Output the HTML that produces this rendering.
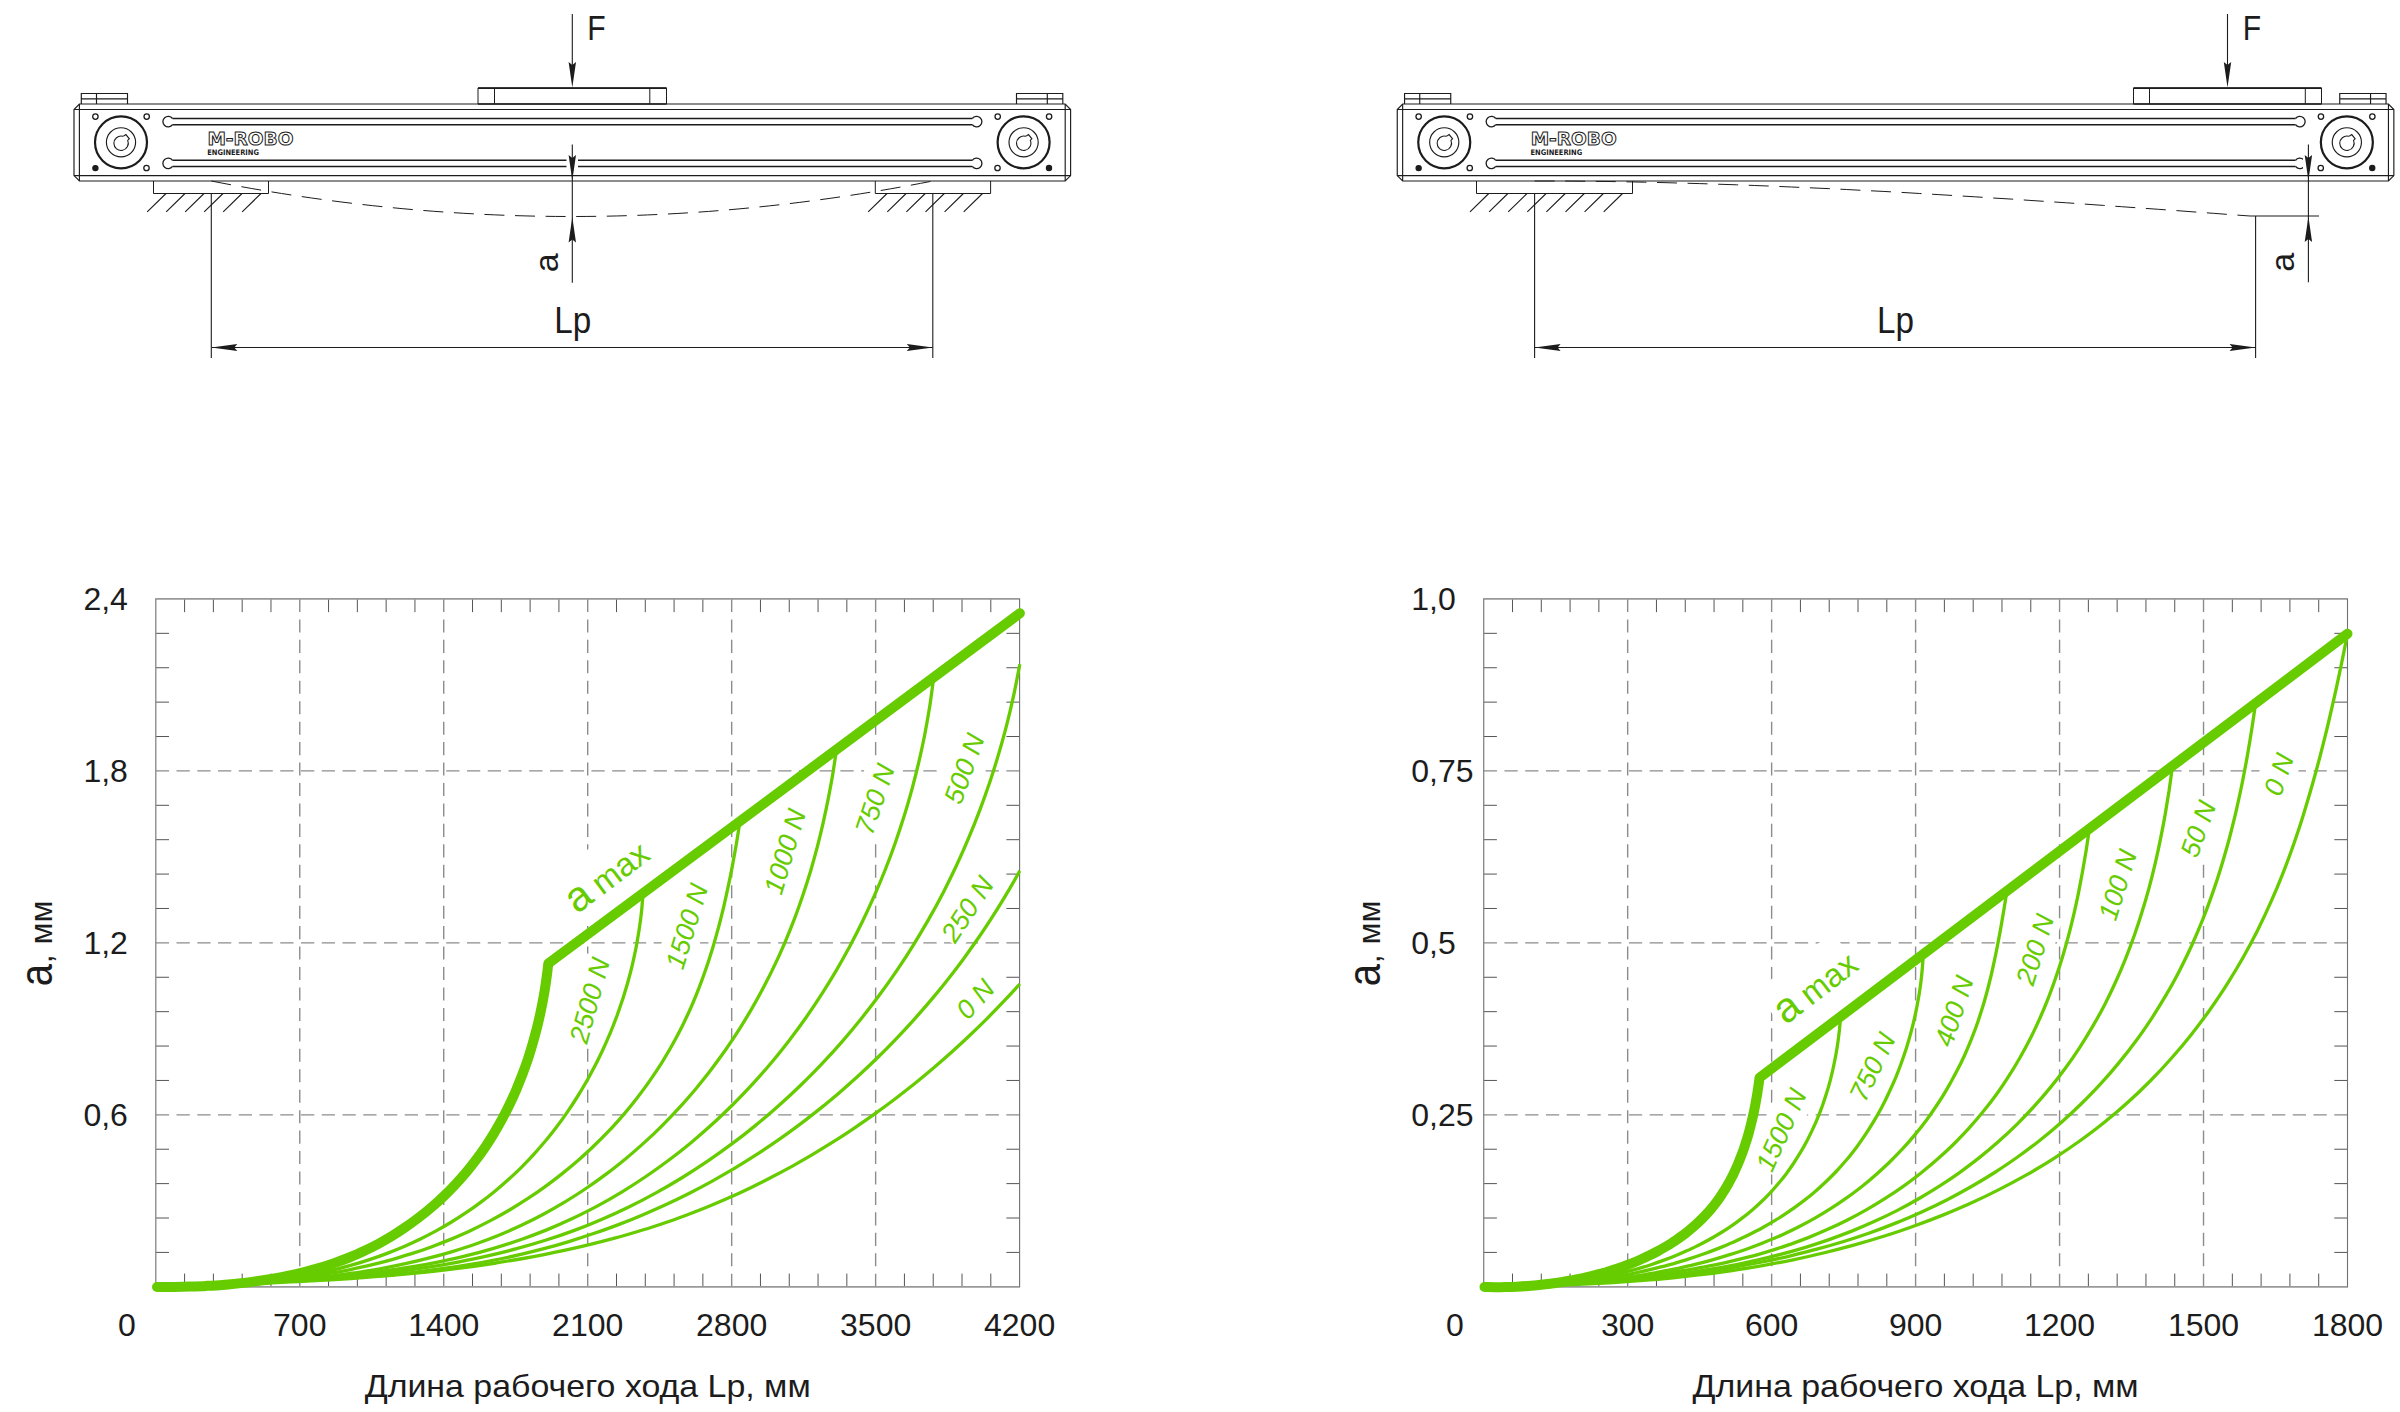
<!DOCTYPE html>
<html lang="ru"><head><meta charset="utf-8"><title>Прогиб модуля M-ROBO</title>
<style>html,body{margin:0;padding:0;background:#fff}svg{display:block}</style></head><body>
<svg width="2400" height="1412" viewBox="0 0 2400 1412">
<rect width="2400" height="1412" fill="#fff"/>
<g id="diagram-left">
<g transform="translate(0.00 0)" fill="none" stroke="#1c1c1c" stroke-width="1.15">
<path d="M81.3 104V93.5H127.5V104M96.5 93.5V104M81.3 98.8H127.5"/>
<path d="M1016.5 104V93.5H1062.8V104M1047.3 93.5V104M1016.5 98.8H1062.8"/>
<path d="M79.4 104H1065.2L1070.6 109.5V175.6L1065.2 181H79.4L74 175.6V109.5Z"/>
<path d="M74 109.5H1070.6M74 175.6H1070.6M79.4 104V181M1065.2 104V181"/>
<path stroke-width="1.5" d="M172.5 118.5H972.3M172.5 124.7H972.3"/>
<path stroke-width="1.3" d="M172.5 118.5A5.3 5.3 0 1 0 172.5 124.7"/>
<path stroke-width="1.3" d="M972.3 118.5A5.3 5.3 0 1 1 972.3 124.7"/>
<path stroke-width="1.5" d="M172.5 160.3H972.3M172.5 166.4H972.3"/>
<path stroke-width="1.3" d="M172.5 160.3A5.3 5.3 0 1 0 172.5 166.4"/>
<path stroke-width="1.3" d="M972.3 160.3A5.3 5.3 0 1 1 972.3 166.4"/>
<circle cx="121.0" cy="142.3" r="26" stroke-width="2.2"/>
<circle cx="121.0" cy="142.3" r="14.6"/>
<path d="M122.5 136.2a7.2 7.2 0 1 0 5.2 4.2l1.6-1.6l-3.4-4.2l-1.8 1.2z" stroke-width="1.1"/>
<circle cx="1023.6" cy="142.3" r="26" stroke-width="2.2"/>
<circle cx="1023.6" cy="142.3" r="14.6"/>
<path d="M1025.1 136.2a7.2 7.2 0 1 0 5.2 4.2l1.6-1.6l-3.4-4.2l-1.8 1.2z" stroke-width="1.1"/>
<circle cx="95.4" cy="116.6" r="2.7" stroke-width="1.3"/>
<circle cx="146.7" cy="116.6" r="2.7" stroke-width="1.3"/>
<circle cx="95.4" cy="168.1" r="2.6" fill="#1c1c1c" stroke-width="1.2"/>
<circle cx="146.5" cy="168.0" r="2.7" stroke-width="1.3"/>
<circle cx="997.7" cy="116.6" r="2.7" stroke-width="1.3"/>
<circle cx="1049.1" cy="116.6" r="2.7" stroke-width="1.3"/>
<circle cx="997.5" cy="168.0" r="2.7" stroke-width="1.3"/>
<circle cx="1049.0" cy="168.0" r="2.6" fill="#1c1c1c" stroke-width="1.2"/>
</g>
<text x="207.40" y="144.7" font-family="'DejaVu Sans','Liberation Sans',sans-serif" font-weight="bold" font-size="18.2" textLength="86" lengthAdjust="spacingAndGlyphs" fill="#fff" stroke="#1c1c1c" stroke-width="1">M-ROBO</text>
<text x="207.20" y="155" font-family="'DejaVu Sans','Liberation Sans',sans-serif" font-weight="bold" font-size="7.7" textLength="51.8" lengthAdjust="spacingAndGlyphs" fill="#1c1c1c">ENGINEERING</text>
<path d="M478 104V88H666.5V104M494.5 88V104M649.8 88V104" fill="none" stroke="#1c1c1c" stroke-width="1"/>
<line x1="478.00" y1="88.20" x2="666.50" y2="88.20" stroke="#1c1c1c" stroke-width="1.8" />
<line x1="478.00" y1="104.00" x2="666.50" y2="104.00" stroke="#1c1c1c" stroke-width="1.6" />
<path d="M153.5 181V193.5H268.5V181M875.3 181V193.5H990.6V181" fill="none" stroke="#1c1c1c" stroke-width="1"/>
<path d="M166.0 193.5l-18.8 18.4M185.0 193.5l-18.8 18.4M204.0 193.5l-18.8 18.4M223.0 193.5l-18.8 18.4M242.0 193.5l-18.8 18.4M261.0 193.5l-18.8 18.4" fill="none" stroke="#1c1c1c" stroke-width="1.1"/>
<path d="M887.0 193.5l-18.8 18.4M906.1 193.5l-18.8 18.4M925.2 193.5l-18.8 18.4M944.3 193.5l-18.8 18.4M963.4 193.5l-18.8 18.4M982.5 193.5l-18.8 18.4" fill="none" stroke="#1c1c1c" stroke-width="1.1"/>
<line x1="572.30" y1="14.00" x2="572.30" y2="70.00" stroke="#1c1c1c" stroke-width="1.1" />
<path d="M572.30 87.60l-3.70 -25.50l3.70 3l3.70 -3z" fill="#1c1c1c"/>
<text x="587.20" y="40.00" font-family="'Liberation Sans','DejaVu Sans',sans-serif" font-size="35" text-anchor="start" fill="#1c1c1c" textLength="18.4" lengthAdjust="spacingAndGlyphs">F</text>
<rect x="566.5" y="157" width="11.5" height="12" fill="#fff"/>
<line x1="572.30" y1="144.40" x2="572.30" y2="282.80" stroke="#1c1c1c" stroke-width="1.1" />
<path d="M572.30 180.60l-3.70 -25.50l3.70 3l3.70 -3z" fill="#1c1c1c"/>
<path d="M572.30 217.00l-3.70 25.50l3.70 -3l3.70 3z" fill="#1c1c1c"/>
<text transform="translate(557.6 272.3) rotate(-90)" font-family="'Liberation Sans','DejaVu Sans',sans-serif" font-size="34" fill="#1c1c1c">a</text>
<path d="M211.3 181Q572 252 932.8 181" fill="none" stroke="#1c1c1c" stroke-width="1" stroke-dasharray="20 10.6"/>
<line x1="211.30" y1="193.50" x2="211.30" y2="358.00" stroke="#1c1c1c" stroke-width="1.1" />
<line x1="932.80" y1="193.50" x2="932.80" y2="358.00" stroke="#1c1c1c" stroke-width="1.1" />
<line x1="211.30" y1="347.50" x2="932.80" y2="347.50" stroke="#1c1c1c" stroke-width="1.1" />
<path d="M211.30 347.50l26.00 -3.50l-3 3.50l3 3.50z" fill="#1c1c1c"/>
<path d="M932.80 347.50l-26.00 -3.50l3 3.50l-3 3.50z" fill="#1c1c1c"/>
<text x="572.70" y="333.00" font-family="'Liberation Sans','DejaVu Sans',sans-serif" font-size="36" text-anchor="middle" fill="#1c1c1c" textLength="37" lengthAdjust="spacingAndGlyphs">Lp</text>
</g>
<g id="diagram-right">
<g transform="translate(1323.25 0)" fill="none" stroke="#1c1c1c" stroke-width="1.15">
<path d="M81.3 104V93.5H127.5V104M96.5 93.5V104M81.3 98.8H127.5"/>
<path d="M1016.5 104V93.5H1062.8V104M1047.3 93.5V104M1016.5 98.8H1062.8"/>
<path d="M79.4 104H1065.2L1070.6 109.5V175.6L1065.2 181H79.4L74 175.6V109.5Z"/>
<path d="M74 109.5H1070.6M74 175.6H1070.6M79.4 104V181M1065.2 104V181"/>
<path stroke-width="1.5" d="M172.5 118.5H972.3M172.5 124.7H972.3"/>
<path stroke-width="1.3" d="M172.5 118.5A5.3 5.3 0 1 0 172.5 124.7"/>
<path stroke-width="1.3" d="M972.3 118.5A5.3 5.3 0 1 1 972.3 124.7"/>
<path stroke-width="1.5" d="M172.5 160.3H972.3M172.5 166.4H972.3"/>
<path stroke-width="1.3" d="M172.5 160.3A5.3 5.3 0 1 0 172.5 166.4"/>
<path stroke-width="1.3" d="M972.3 160.3A5.3 5.3 0 1 1 972.3 166.4"/>
<circle cx="121.0" cy="142.3" r="26" stroke-width="2.2"/>
<circle cx="121.0" cy="142.3" r="14.6"/>
<path d="M122.5 136.2a7.2 7.2 0 1 0 5.2 4.2l1.6-1.6l-3.4-4.2l-1.8 1.2z" stroke-width="1.1"/>
<circle cx="1023.6" cy="142.3" r="26" stroke-width="2.2"/>
<circle cx="1023.6" cy="142.3" r="14.6"/>
<path d="M1025.1 136.2a7.2 7.2 0 1 0 5.2 4.2l1.6-1.6l-3.4-4.2l-1.8 1.2z" stroke-width="1.1"/>
<circle cx="95.4" cy="116.6" r="2.7" stroke-width="1.3"/>
<circle cx="146.7" cy="116.6" r="2.7" stroke-width="1.3"/>
<circle cx="95.4" cy="168.1" r="2.6" fill="#1c1c1c" stroke-width="1.2"/>
<circle cx="146.5" cy="168.0" r="2.7" stroke-width="1.3"/>
<circle cx="997.7" cy="116.6" r="2.7" stroke-width="1.3"/>
<circle cx="1049.1" cy="116.6" r="2.7" stroke-width="1.3"/>
<circle cx="997.5" cy="168.0" r="2.7" stroke-width="1.3"/>
<circle cx="1049.0" cy="168.0" r="2.6" fill="#1c1c1c" stroke-width="1.2"/>
</g>
<text x="1530.65" y="144.7" font-family="'DejaVu Sans','Liberation Sans',sans-serif" font-weight="bold" font-size="18.2" textLength="86" lengthAdjust="spacingAndGlyphs" fill="#fff" stroke="#1c1c1c" stroke-width="1">M-ROBO</text>
<text x="1530.45" y="155" font-family="'DejaVu Sans','Liberation Sans',sans-serif" font-weight="bold" font-size="7.7" textLength="51.8" lengthAdjust="spacingAndGlyphs" fill="#1c1c1c">ENGINEERING</text>
<path d="M2133.5 104V88H2321.5V104M2149.5 88V104M2305.3 88V104" fill="none" stroke="#1c1c1c" stroke-width="1"/>
<line x1="2133.50" y1="88.20" x2="2321.50" y2="88.20" stroke="#1c1c1c" stroke-width="1.8" />
<line x1="2133.50" y1="104.00" x2="2321.50" y2="104.00" stroke="#1c1c1c" stroke-width="1.6" />
<path d="M1476.5 181V193.5H1632.5V181" fill="none" stroke="#1c1c1c" stroke-width="1"/>
<path d="M1488.8 193.5l-18.8 18.4M1507.9 193.5l-18.8 18.4M1527.0 193.5l-18.8 18.4M1546.1 193.5l-18.8 18.4M1565.2 193.5l-18.8 18.4M1584.3 193.5l-18.8 18.4M1603.4 193.5l-18.8 18.4M1622.5 193.5l-18.8 18.4" fill="none" stroke="#1c1c1c" stroke-width="1.1"/>
<line x1="2227.50" y1="14.00" x2="2227.50" y2="70.00" stroke="#1c1c1c" stroke-width="1.1" />
<path d="M2227.50 87.60l-3.70 -25.50l3.70 3l3.70 -3z" fill="#1c1c1c"/>
<text x="2242.80" y="40.00" font-family="'Liberation Sans','DejaVu Sans',sans-serif" font-size="35" text-anchor="start" fill="#1c1c1c" textLength="18.4" lengthAdjust="spacingAndGlyphs">F</text>
<rect x="2303" y="156" width="11" height="14" fill="#fff"/>
<line x1="2308.40" y1="144.40" x2="2308.40" y2="282.30" stroke="#1c1c1c" stroke-width="1.1" />
<path d="M2308.40 180.60l-3.70 -25.50l3.70 3l3.70 -3z" fill="#1c1c1c"/>
<path d="M2308.40 216.60l-3.70 25.50l3.70 -3l3.70 3z" fill="#1c1c1c"/>
<text transform="translate(2294 271.8) rotate(-90)" font-family="'Liberation Sans','DejaVu Sans',sans-serif" font-size="34" fill="#1c1c1c">a</text>
<path d="M1534.6 181.0L1552.9 181.0L1571.3 181.1L1589.6 181.3L1608.0 181.5L1626.3 181.8L1644.7 182.2L1663.0 182.6L1681.3 183.1L1699.7 183.6L1718.0 184.2L1736.4 184.8L1754.7 185.5L1773.1 186.2L1791.4 187.0L1809.8 187.8L1828.1 188.6L1846.4 189.5L1864.8 190.5L1883.1 191.4L1901.5 192.4L1919.8 193.5L1938.2 194.6L1956.5 195.7L1974.8 196.8L1993.2 198.0L2011.5 199.1L2029.9 200.4L2048.2 201.6L2066.6 202.8L2084.9 204.1L2103.3 205.4L2121.6 206.7L2139.9 208.0L2158.3 209.3L2176.6 210.6L2195.0 212.0L2213.3 213.3L2231.7 214.7L2250.0 216.0" fill="none" stroke="#1c1c1c" stroke-width="1" stroke-dasharray="20 10.6"/>
<line x1="2250.00" y1="216.00" x2="2319.00" y2="216.00" stroke="#1c1c1c" stroke-width="1.1" />
<line x1="1534.60" y1="193.50" x2="1534.60" y2="358.00" stroke="#1c1c1c" stroke-width="1.1" />
<line x1="2255.60" y1="216.00" x2="2255.60" y2="358.00" stroke="#1c1c1c" stroke-width="1.1" />
<line x1="1534.60" y1="347.50" x2="2255.60" y2="347.50" stroke="#1c1c1c" stroke-width="1.1" />
<path d="M1534.60 347.50l26.00 -3.50l-3 3.50l3 3.50z" fill="#1c1c1c"/>
<path d="M2255.60 347.50l-26.00 -3.50l3 3.50l-3 3.50z" fill="#1c1c1c"/>
<text x="1895.60" y="333.00" font-family="'Liberation Sans','DejaVu Sans',sans-serif" font-size="36" text-anchor="middle" fill="#1c1c1c" textLength="37" lengthAdjust="spacingAndGlyphs">Lp</text>
</g>
<g id="chart-left">
<path d="M299.77 598.95V1286.80M443.73 598.95V1286.80M587.70 598.95V1286.80M731.67 598.95V1286.80M875.63 598.95V1286.80" fill="none" stroke="#8c8c8c" stroke-width="1.4" stroke-dasharray="13.075 7.372"/>
<path d="M155.80 770.91H1019.60M155.80 942.88H1019.60M155.80 1114.84H1019.60" fill="none" stroke="#8c8c8c" stroke-width="1.4" stroke-dasharray="13.265 7.48"/>
<rect transform="translate(589.4 1000.3) rotate(-74.5)" x="-44.5" y="-19" width="89.0" height="36.8" fill="#fff"/>
<rect transform="translate(686.5 926.2) rotate(-73.0)" x="-44.5" y="-19" width="89.0" height="36.8" fill="#fff"/>
<rect transform="translate(784.6 851.5) rotate(-73.5)" x="-44.5" y="-19" width="89.0" height="36.8" fill="#fff"/>
<rect transform="translate(874.6 799.1) rotate(-71.5)" x="-37.0" y="-19" width="74.0" height="36.8" fill="#fff"/>
<rect transform="translate(964.0 768.5) rotate(-70.5)" x="-37.0" y="-19" width="74.0" height="36.8" fill="#fff"/>
<rect transform="translate(967.1 909.0) rotate(-56.5)" x="-37.0" y="-19" width="74.0" height="36.8" fill="#fff"/>
<rect transform="translate(975.0 998.9) rotate(-48.0)" x="-22.0" y="-19" width="44.0" height="36.8" fill="#fff"/>
<rect transform="translate(577.1 914.5) rotate(-37.0)" x="-3.6" y="-45.5" width="97.2" height="57" fill="#fff"/>
<path d="M184.59 598.95v13.2M184.59 1286.80v-13.2M213.39 598.95v13.2M213.39 1286.80v-13.2M242.18 598.95v13.2M242.18 1286.80v-13.2M270.97 598.95v13.2M270.97 1286.80v-13.2M328.56 598.95v13.2M328.56 1286.80v-13.2M357.35 598.95v13.2M357.35 1286.80v-13.2M386.15 598.95v13.2M386.15 1286.80v-13.2M414.94 598.95v13.2M414.94 1286.80v-13.2M472.53 598.95v13.2M472.53 1286.80v-13.2M501.32 598.95v13.2M501.32 1286.80v-13.2M530.11 598.95v13.2M530.11 1286.80v-13.2M558.91 598.95v13.2M558.91 1286.80v-13.2M616.49 598.95v13.2M616.49 1286.80v-13.2M645.29 598.95v13.2M645.29 1286.80v-13.2M674.08 598.95v13.2M674.08 1286.80v-13.2M702.87 598.95v13.2M702.87 1286.80v-13.2M760.46 598.95v13.2M760.46 1286.80v-13.2M789.25 598.95v13.2M789.25 1286.80v-13.2M818.05 598.95v13.2M818.05 1286.80v-13.2M846.84 598.95v13.2M846.84 1286.80v-13.2M904.43 598.95v13.2M904.43 1286.80v-13.2M933.22 598.95v13.2M933.22 1286.80v-13.2M962.01 598.95v13.2M962.01 1286.80v-13.2M990.81 598.95v13.2M990.81 1286.80v-13.2M155.80 633.34h13.2M1019.60 633.34h-13.2M155.80 667.74h13.2M1019.60 667.74h-13.2M155.80 702.13h13.2M1019.60 702.13h-13.2M155.80 736.52h13.2M1019.60 736.52h-13.2M155.80 805.31h13.2M1019.60 805.31h-13.2M155.80 839.70h13.2M1019.60 839.70h-13.2M155.80 874.09h13.2M1019.60 874.09h-13.2M155.80 908.48h13.2M1019.60 908.48h-13.2M155.80 977.27h13.2M1019.60 977.27h-13.2M155.80 1011.66h13.2M1019.60 1011.66h-13.2M155.80 1046.05h13.2M1019.60 1046.05h-13.2M155.80 1080.45h13.2M1019.60 1080.45h-13.2M155.80 1149.23h13.2M1019.60 1149.23h-13.2M155.80 1183.62h13.2M1019.60 1183.62h-13.2M155.80 1218.01h13.2M1019.60 1218.01h-13.2M155.80 1252.41h13.2M1019.60 1252.41h-13.2" fill="none" stroke="#555" stroke-width="1"/>
<path d="M155.20 598.95H1020.10M155.20 1286.80H1020.10" fill="none" stroke="#999" stroke-width="1.7"/>
<path d="M155.80 598.95V1286.80" fill="none" stroke="#858585" stroke-width="1.3"/>
<path d="M1019.60 598.95V1286.80" fill="none" stroke="#707070" stroke-width="1.1"/>
<text x="83.40" y="610.35" font-family="'Liberation Sans','DejaVu Sans',sans-serif" font-size="32" text-anchor="start" fill="#1c1c1c" >2,4</text>
<text x="83.40" y="782.31" font-family="'Liberation Sans','DejaVu Sans',sans-serif" font-size="32" text-anchor="start" fill="#1c1c1c" >1,8</text>
<text x="83.40" y="954.27" font-family="'Liberation Sans','DejaVu Sans',sans-serif" font-size="32" text-anchor="start" fill="#1c1c1c" >1,2</text>
<text x="83.40" y="1126.24" font-family="'Liberation Sans','DejaVu Sans',sans-serif" font-size="32" text-anchor="start" fill="#1c1c1c" >0,6</text>
<text x="127.00" y="1336.40" font-family="'Liberation Sans','DejaVu Sans',sans-serif" font-size="32" text-anchor="middle" fill="#1c1c1c" >0</text>
<text x="299.77" y="1336.40" font-family="'Liberation Sans','DejaVu Sans',sans-serif" font-size="32" text-anchor="middle" fill="#1c1c1c" >700</text>
<text x="443.73" y="1336.40" font-family="'Liberation Sans','DejaVu Sans',sans-serif" font-size="32" text-anchor="middle" fill="#1c1c1c" >1400</text>
<text x="587.70" y="1336.40" font-family="'Liberation Sans','DejaVu Sans',sans-serif" font-size="32" text-anchor="middle" fill="#1c1c1c" >2100</text>
<text x="731.67" y="1336.40" font-family="'Liberation Sans','DejaVu Sans',sans-serif" font-size="32" text-anchor="middle" fill="#1c1c1c" >2800</text>
<text x="875.63" y="1336.40" font-family="'Liberation Sans','DejaVu Sans',sans-serif" font-size="32" text-anchor="middle" fill="#1c1c1c" >3500</text>
<text x="1019.60" y="1336.40" font-family="'Liberation Sans','DejaVu Sans',sans-serif" font-size="32" text-anchor="middle" fill="#1c1c1c" >4200</text>
<text x="587.70" y="1396.90" font-family="'Liberation Sans','DejaVu Sans',sans-serif" font-size="31.5" text-anchor="middle" fill="#1c1c1c" textLength="446" lengthAdjust="spacingAndGlyphs">Длина рабочего хода Lp, мм</text>
<text transform="translate(52.20 986.3) rotate(-90)" font-family="'Liberation Sans','DejaVu Sans',sans-serif" font-size="46" fill="#1c1c1c" textLength="22.3" lengthAdjust="spacingAndGlyphs">a</text>
<text transform="translate(52.00 963.2) rotate(-90)" font-family="'Liberation Sans','DejaVu Sans',sans-serif" font-size="32" fill="#1c1c1c">,</text>
<text transform="translate(51.90 944.6) rotate(-90)" font-family="'Liberation Sans','DejaVu Sans',sans-serif" font-size="32" fill="#1c1c1c" textLength="44" lengthAdjust="spacingAndGlyphs">мм</text>
<path d="M157.0 1287.0C160.0 1287.0 169.0 1287.2 175.1 1287.1C181.1 1287.1 187.2 1287.1 193.2 1286.9C199.3 1286.8 205.3 1286.6 211.4 1286.3C217.4 1286.1 223.5 1285.8 229.5 1285.4C235.6 1284.9 241.6 1284.5 247.7 1283.9C253.7 1283.4 259.7 1282.7 265.7 1282.0C271.7 1281.3 277.7 1280.5 283.7 1279.6C289.6 1278.7 295.6 1277.7 301.5 1276.7C307.4 1275.6 313.3 1274.5 319.2 1273.2C325.1 1271.9 330.9 1270.6 336.7 1269.1C342.5 1267.7 348.3 1266.1 354.0 1264.4C359.7 1262.8 365.4 1261.0 371.0 1259.1C376.7 1257.2 382.2 1255.3 387.8 1253.1C393.3 1251.0 398.8 1248.8 404.2 1246.5C409.7 1244.1 415.1 1241.6 420.4 1239.0C425.7 1236.4 430.9 1233.7 436.1 1230.9C441.3 1228.0 446.4 1225.1 451.5 1222.0C456.6 1218.9 461.5 1215.7 466.4 1212.4C471.4 1209.1 476.2 1205.7 480.9 1202.1C485.7 1198.6 490.4 1194.9 494.9 1191.2C499.5 1187.4 504.0 1183.5 508.4 1179.5C512.9 1175.5 517.2 1171.5 521.4 1167.3C525.6 1163.1 529.8 1158.8 533.8 1154.4C537.8 1149.9 541.7 1145.4 545.6 1140.8C549.4 1136.2 553.1 1131.5 556.7 1126.7C560.4 1122.0 563.9 1117.1 567.3 1112.1C570.7 1107.2 574.0 1102.1 577.2 1097.0C580.4 1091.9 583.5 1086.7 586.5 1081.5C589.5 1076.2 592.3 1070.9 595.1 1065.5C597.9 1060.2 600.5 1054.7 603.1 1049.2C605.6 1043.8 608.0 1038.2 610.4 1032.6C612.7 1027.0 614.9 1021.4 617.0 1015.7C619.1 1010.0 621.0 1004.3 622.9 998.6C624.7 992.8 626.5 987.1 628.1 981.3C629.7 975.4 631.2 969.6 632.6 963.8C633.9 957.9 635.2 952.1 636.3 946.2C637.4 940.3 638.4 934.4 639.3 928.5C640.2 922.6 641.0 916.7 641.6 910.8C642.2 905.0 642.8 896.1 643.1 893.2" fill="none" stroke="#66cc00" stroke-width="3.3"/>
<path d="M157.0 1287.0C160.5 1286.9 171.1 1286.8 178.1 1286.7C185.2 1286.5 192.3 1286.3 199.4 1286.1C206.5 1285.8 213.7 1285.5 220.8 1285.1C228.0 1284.8 235.1 1284.3 242.3 1283.8C249.5 1283.3 256.6 1282.7 263.8 1282.1C271.0 1281.4 278.1 1280.7 285.3 1279.8C292.4 1279.0 299.6 1278.1 306.7 1277.1C313.8 1276.1 320.9 1274.9 328.0 1273.7C335.1 1272.5 342.2 1271.2 349.2 1269.8C356.3 1268.3 363.3 1266.8 370.3 1265.1C377.2 1263.5 384.2 1261.7 391.1 1259.8C397.9 1257.9 404.8 1255.8 411.6 1253.7C418.4 1251.5 425.2 1249.2 431.9 1246.7C438.5 1244.2 445.2 1241.6 451.8 1238.9C458.3 1236.1 464.9 1233.2 471.3 1230.2C477.7 1227.1 484.1 1223.9 490.4 1220.6C496.7 1217.3 502.9 1213.8 509.1 1210.2C515.2 1206.6 521.3 1202.8 527.2 1198.9C533.2 1195.0 539.1 1191.0 544.8 1186.8C550.6 1182.7 556.3 1178.4 561.9 1173.9C567.4 1169.5 572.9 1165.0 578.3 1160.3C583.6 1155.6 588.9 1150.8 594.0 1145.8C599.2 1140.9 604.2 1135.9 609.1 1130.7C614.0 1125.5 618.7 1120.2 623.4 1114.8C628.0 1109.4 632.5 1103.9 636.9 1098.2C641.2 1092.6 645.5 1086.9 649.5 1081.1C653.6 1075.2 657.6 1069.3 661.4 1063.3C665.1 1057.3 668.8 1051.2 672.2 1045.0C675.7 1038.8 679.0 1032.5 682.2 1026.2C685.3 1019.9 688.3 1013.4 691.2 1007.0C694.0 1000.5 696.7 993.9 699.2 987.3C701.8 980.7 704.2 974.0 706.5 967.3C708.8 960.6 710.9 953.8 713.0 947.0C715.0 940.2 716.9 933.3 718.8 926.4C720.6 919.5 722.3 912.6 724.0 905.6C725.6 898.7 727.1 891.7 728.6 884.7C730.1 877.7 731.5 870.6 732.8 863.6C734.1 856.5 735.4 849.5 736.6 842.4C737.8 835.4 739.4 824.7 740.0 821.2" fill="none" stroke="#66cc00" stroke-width="3.3"/>
<path d="M157.0 1287.0C161.1 1286.9 173.3 1286.5 181.5 1286.2C189.7 1286.0 197.9 1285.7 206.1 1285.4C214.4 1285.0 222.7 1284.7 231.0 1284.3C239.2 1283.9 247.5 1283.4 255.9 1282.9C264.2 1282.4 272.5 1281.8 280.8 1281.1C289.1 1280.5 297.4 1279.7 305.7 1278.9C314.0 1278.1 322.3 1277.2 330.6 1276.2C338.9 1275.1 347.1 1274.0 355.3 1272.8C363.6 1271.6 371.8 1270.2 379.9 1268.8C388.1 1267.3 396.2 1265.7 404.3 1263.9C412.4 1262.2 420.5 1260.3 428.4 1258.2C436.4 1256.2 444.4 1254.0 452.3 1251.6C460.1 1249.2 468.0 1246.7 475.7 1244.0C483.5 1241.2 491.2 1238.3 498.8 1235.2C506.4 1232.1 513.9 1228.8 521.4 1225.3C528.8 1221.8 536.2 1218.1 543.4 1214.2C550.7 1210.3 557.9 1206.2 565.0 1201.9C572.0 1197.6 579.0 1193.2 585.9 1188.5C592.7 1183.9 599.5 1179.1 606.1 1174.1C612.8 1169.2 619.3 1164.0 625.7 1158.7C632.1 1153.5 638.3 1148.0 644.5 1142.4C650.6 1136.9 656.6 1131.2 662.4 1125.3C668.3 1119.5 674.0 1113.5 679.6 1107.4C685.2 1101.3 690.6 1095.0 695.9 1088.7C701.2 1082.3 706.4 1075.9 711.4 1069.3C716.4 1062.7 721.2 1056.0 726.0 1049.3C730.7 1042.5 735.3 1035.6 739.7 1028.6C744.1 1021.6 748.4 1014.5 752.5 1007.4C756.7 1000.2 760.6 993.0 764.5 985.6C768.3 978.3 772.0 970.9 775.5 963.4C779.0 955.9 782.4 948.4 785.6 940.8C788.9 933.1 791.9 925.5 794.9 917.7C797.8 910.0 800.5 902.2 803.2 894.3C805.8 886.5 808.3 878.6 810.7 870.7C813.0 862.7 815.2 854.8 817.3 846.8C819.4 838.8 821.4 830.7 823.2 822.6C825.0 814.6 826.7 806.5 828.3 798.4C829.9 790.3 831.4 782.1 832.8 774.0C834.1 765.8 835.9 753.6 836.5 749.5" fill="none" stroke="#66cc00" stroke-width="3.3"/>
<path d="M157.0 1287.0C161.7 1286.8 175.6 1286.2 185.0 1285.8C194.3 1285.4 203.7 1285.0 213.1 1284.6C222.5 1284.1 232.0 1283.7 241.4 1283.3C250.9 1282.8 260.4 1282.3 269.8 1281.7C279.3 1281.2 288.8 1280.6 298.3 1279.9C307.8 1279.2 317.3 1278.4 326.7 1277.6C336.2 1276.7 345.6 1275.8 355.1 1274.8C364.5 1273.7 373.9 1272.5 383.3 1271.2C392.7 1269.9 402.0 1268.5 411.3 1267.0C420.6 1265.4 429.9 1263.7 439.1 1261.8C448.3 1259.9 457.5 1257.9 466.6 1255.6C475.7 1253.4 484.8 1250.9 493.7 1248.3C502.7 1245.7 511.6 1242.8 520.5 1239.8C529.3 1236.7 538.0 1233.4 546.7 1229.9C555.4 1226.4 564.0 1222.6 572.4 1218.6C580.9 1214.6 589.3 1210.3 597.6 1205.9C605.9 1201.4 614.0 1196.7 622.1 1191.8C630.2 1186.9 638.1 1181.8 645.9 1176.5C653.7 1171.2 661.4 1165.7 669.0 1160.0C676.6 1154.3 684.0 1148.4 691.3 1142.4C698.5 1136.4 705.7 1130.2 712.7 1123.8C719.7 1117.5 726.5 1110.9 733.2 1104.3C739.8 1097.6 746.4 1090.8 752.7 1083.9C759.1 1077.0 765.3 1069.9 771.3 1062.7C777.4 1055.5 783.2 1048.2 789.0 1040.7C794.7 1033.3 800.3 1025.7 805.7 1018.0C811.1 1010.3 816.3 1002.5 821.4 994.6C826.5 986.7 831.4 978.7 836.2 970.6C840.9 962.5 845.5 954.3 850.0 946.0C854.4 937.7 858.7 929.3 862.8 920.8C866.9 912.3 870.8 903.8 874.6 895.2C878.4 886.5 882.0 877.8 885.5 869.0C889.0 860.3 892.3 851.4 895.4 842.5C898.5 833.6 901.5 824.6 904.3 815.6C907.1 806.6 909.7 797.5 912.2 788.4C914.6 779.3 916.9 770.1 919.1 760.9C921.2 751.7 923.2 742.5 925.0 733.2C926.8 723.9 928.4 714.6 929.9 705.3C931.3 696.0 933.1 682.0 933.7 677.3" fill="none" stroke="#66cc00" stroke-width="3.3"/>
<path d="M157.0 1287.0C162.0 1286.8 176.9 1286.3 186.9 1285.9C196.9 1285.5 206.9 1285.2 216.9 1284.8C227.0 1284.4 237.1 1284.0 247.1 1283.5C257.2 1283.0 267.3 1282.6 277.4 1282.0C287.5 1281.4 297.7 1280.8 307.8 1280.2C317.9 1279.5 328.0 1278.7 338.1 1277.9C348.2 1277.0 358.3 1276.1 368.3 1275.0C378.4 1274.0 388.4 1272.8 398.5 1271.5C408.5 1270.2 418.5 1268.8 428.4 1267.2C438.3 1265.7 448.3 1264.0 458.1 1262.1C468.0 1260.2 477.8 1258.2 487.6 1255.9C497.3 1253.7 507.0 1251.3 516.7 1248.7C526.3 1246.1 535.9 1243.3 545.4 1240.3C554.9 1237.3 564.4 1234.1 573.7 1230.6C583.1 1227.2 592.4 1223.5 601.5 1219.5C610.7 1215.6 619.8 1211.4 628.8 1207.0C637.8 1202.6 646.7 1198.0 655.5 1193.1C664.3 1188.3 673.0 1183.3 681.6 1178.0C690.1 1172.8 698.6 1167.3 706.9 1161.7C715.2 1156.0 723.4 1150.2 731.5 1144.2C739.6 1138.2 747.5 1132.0 755.3 1125.6C763.1 1119.3 770.8 1112.7 778.3 1106.0C785.8 1099.4 793.2 1092.5 800.4 1085.5C807.6 1078.5 814.7 1071.4 821.6 1064.1C828.5 1056.8 835.3 1049.4 841.9 1041.8C848.5 1034.2 854.9 1026.5 861.2 1018.7C867.5 1010.8 873.7 1002.9 879.6 994.8C885.6 986.7 891.4 978.5 897.1 970.1C902.7 961.8 908.2 953.4 913.5 944.8C918.8 936.3 923.9 927.6 928.9 918.9C933.9 910.1 938.7 901.3 943.3 892.4C947.9 883.4 952.3 874.4 956.6 865.3C960.8 856.2 964.9 847.0 968.8 837.7C972.7 828.4 976.4 819.1 980.0 809.6C983.5 800.2 986.9 790.7 990.1 781.2C993.3 771.7 996.3 762.0 999.1 752.4C1002.0 742.7 1004.6 733.0 1007.1 723.3C1009.6 713.5 1011.9 703.7 1014.0 693.9C1016.1 684.0 1018.8 669.2 1019.8 664.2" fill="none" stroke="#66cc00" stroke-width="3.3"/>
<path d="M157.0 1287.0C161.3 1286.8 174.3 1286.1 182.9 1285.7C191.6 1285.3 200.3 1285.0 209.0 1284.6C217.7 1284.2 226.4 1283.9 235.1 1283.5C243.8 1283.2 252.5 1282.9 261.2 1282.5C269.9 1282.1 278.6 1281.8 287.4 1281.4C296.1 1281.0 304.8 1280.6 313.5 1280.1C322.2 1279.6 330.9 1279.1 339.6 1278.6C348.4 1278.0 357.0 1277.4 365.7 1276.7C374.4 1276.1 383.1 1275.3 391.7 1274.5C400.4 1273.7 409.0 1272.8 417.6 1271.8C426.3 1270.8 434.9 1269.7 443.4 1268.5C452.0 1267.3 460.6 1266.1 469.1 1264.6C477.6 1263.2 486.1 1261.7 494.5 1260.0C503.0 1258.4 511.4 1256.6 519.8 1254.6C528.2 1252.7 536.6 1250.6 544.9 1248.4C553.2 1246.2 561.5 1243.8 569.7 1241.3C577.9 1238.8 586.1 1236.1 594.3 1233.3C602.4 1230.6 610.5 1227.6 618.5 1224.6C626.6 1221.5 634.6 1218.3 642.5 1214.9C650.4 1211.6 658.3 1208.1 666.1 1204.5C673.9 1200.9 681.7 1197.1 689.4 1193.2C697.1 1189.3 704.7 1185.3 712.3 1181.1C719.8 1176.9 727.3 1172.6 734.8 1168.2C742.2 1163.7 749.5 1159.1 756.8 1154.4C764.1 1149.7 771.3 1144.9 778.4 1139.9C785.5 1134.9 792.6 1129.8 799.5 1124.6C806.5 1119.4 813.3 1114.0 820.1 1108.6C826.9 1103.1 833.6 1097.6 840.2 1091.9C846.8 1086.2 853.3 1080.4 859.8 1074.5C866.2 1068.6 872.5 1062.6 878.7 1056.5C885.0 1050.4 891.1 1044.1 897.1 1037.8C903.1 1031.5 909.1 1025.1 914.9 1018.6C920.7 1012.1 926.4 1005.6 932.0 998.9C937.6 992.2 943.1 985.5 948.4 978.7C953.8 971.8 959.0 964.9 964.2 957.9C969.3 950.9 974.3 943.9 979.2 936.8C984.1 929.6 988.9 922.4 993.5 915.2C998.1 907.9 1002.7 900.6 1007.0 893.2C1011.4 885.8 1017.7 874.6 1019.8 870.9" fill="none" stroke="#66cc00" stroke-width="3.3"/>
<path d="M157.0 1287.0C161.0 1286.9 173.0 1286.4 181.0 1286.2C189.0 1285.9 197.0 1285.6 205.0 1285.3C213.1 1285.1 221.1 1284.8 229.2 1284.5C237.3 1284.2 245.3 1283.9 253.4 1283.5C261.5 1283.2 269.6 1282.9 277.7 1282.5C285.8 1282.1 293.9 1281.8 302.0 1281.3C310.2 1280.9 318.3 1280.5 326.4 1280.0C334.5 1279.5 342.7 1279.0 350.8 1278.5C358.9 1277.9 367.0 1277.3 375.1 1276.7C383.3 1276.0 391.4 1275.4 399.5 1274.6C407.6 1273.9 415.7 1273.1 423.8 1272.3C431.9 1271.4 439.9 1270.5 448.0 1269.5C456.1 1268.6 464.1 1267.6 472.2 1266.5C480.2 1265.4 488.2 1264.2 496.2 1263.0C504.2 1261.7 512.2 1260.4 520.2 1259.0C528.2 1257.7 536.1 1256.2 544.0 1254.6C552.0 1253.1 559.9 1251.4 567.7 1249.7C575.6 1248.0 583.5 1246.2 591.3 1244.2C599.1 1242.3 606.9 1240.3 614.6 1238.2C622.4 1236.1 630.1 1233.8 637.8 1231.5C645.5 1229.2 653.2 1226.7 660.8 1224.2C668.4 1221.6 676.0 1219.0 683.5 1216.2C691.1 1213.4 698.6 1210.5 706.0 1207.5C713.5 1204.4 720.9 1201.3 728.3 1198.0C735.6 1194.8 743.0 1191.4 750.2 1187.9C757.5 1184.4 764.8 1180.8 771.9 1177.0C779.1 1173.3 786.2 1169.5 793.3 1165.6C800.4 1161.6 807.4 1157.6 814.4 1153.4C821.3 1149.3 828.2 1145.0 835.1 1140.7C841.9 1136.3 848.7 1131.9 855.4 1127.3C862.1 1122.8 868.8 1118.2 875.4 1113.4C882.0 1108.7 888.5 1103.9 895.0 1099.0C901.4 1094.1 907.8 1089.0 914.2 1084.0C920.5 1078.9 926.7 1073.7 932.9 1068.5C939.1 1063.2 945.2 1057.9 951.2 1052.5C957.3 1047.0 963.2 1041.6 969.1 1036.0C975.0 1030.4 980.8 1024.8 986.5 1019.1C992.2 1013.4 997.9 1007.6 1003.4 1001.7C1009.0 995.9 1017.1 987.0 1019.8 984.0" fill="none" stroke="#66cc00" stroke-width="3.3"/>
<path d="M157.0 1287.0C159.7 1287.0 167.9 1287.0 173.3 1287.0C178.7 1286.9 184.2 1286.8 189.7 1286.6C195.1 1286.4 200.6 1286.2 206.1 1285.9C211.5 1285.6 217.0 1285.3 222.5 1284.9C227.9 1284.4 233.4 1284.0 238.8 1283.4C244.3 1282.8 249.7 1282.2 255.1 1281.4C260.5 1280.7 265.9 1279.9 271.3 1279.0C276.7 1278.0 282.0 1277.0 287.3 1275.9C292.7 1274.8 297.9 1273.6 303.2 1272.3C308.4 1271.0 313.7 1269.6 318.8 1268.1C324.0 1266.5 329.1 1264.9 334.2 1263.1C339.3 1261.4 344.3 1259.5 349.3 1257.5C354.3 1255.4 359.2 1253.3 364.0 1251.0C368.9 1248.7 373.7 1246.3 378.4 1243.8C383.1 1241.2 387.8 1238.5 392.4 1235.7C397.0 1232.9 401.5 1230.0 405.9 1226.9C410.4 1223.9 414.7 1220.7 419.0 1217.4C423.3 1214.1 427.5 1210.7 431.6 1207.2C435.7 1203.7 439.7 1200.1 443.6 1196.3C447.5 1192.6 451.3 1188.8 455.0 1184.8C458.7 1180.9 462.3 1176.8 465.8 1172.7C469.3 1168.6 472.7 1164.3 475.9 1160.0C479.2 1155.7 482.3 1151.3 485.4 1146.8C488.4 1142.3 491.3 1137.7 494.1 1133.1C496.9 1128.4 499.6 1123.7 502.2 1118.9C504.8 1114.1 507.3 1109.3 509.6 1104.4C512.0 1099.4 514.2 1094.5 516.4 1089.4C518.5 1084.4 520.5 1079.3 522.5 1074.2C524.4 1069.1 526.2 1064.0 528.0 1058.8C529.7 1053.6 531.3 1048.4 532.8 1043.1C534.3 1037.9 535.7 1032.6 537.1 1027.3C538.4 1022.0 539.6 1016.7 540.7 1011.4C541.9 1006.1 542.9 1000.8 543.8 995.5C544.8 990.2 545.6 984.8 546.3 979.5C547.1 974.2 548.0 966.3 548.3 963.6L1019.9 613.3" fill="none" stroke="#66cc00" stroke-width="10" stroke-linecap="round" stroke-linejoin="round"/>
<text transform="translate(589.4 1000.3) rotate(-74.5)" font-family="'Liberation Sans','DejaVu Sans',sans-serif" font-style="italic" font-size="27" text-anchor="middle" fill="#66cc00" y="9.6">2500 N</text>
<text transform="translate(686.5 926.2) rotate(-73.0)" font-family="'Liberation Sans','DejaVu Sans',sans-serif" font-style="italic" font-size="27" text-anchor="middle" fill="#66cc00" y="9.6">1500 N</text>
<text transform="translate(784.6 851.5) rotate(-73.5)" font-family="'Liberation Sans','DejaVu Sans',sans-serif" font-style="italic" font-size="27" text-anchor="middle" fill="#66cc00" y="9.6">1000 N</text>
<text transform="translate(874.6 799.1) rotate(-71.5)" font-family="'Liberation Sans','DejaVu Sans',sans-serif" font-style="italic" font-size="27" text-anchor="middle" fill="#66cc00" y="9.6">750 N</text>
<text transform="translate(964.0 768.5) rotate(-70.5)" font-family="'Liberation Sans','DejaVu Sans',sans-serif" font-style="italic" font-size="27" text-anchor="middle" fill="#66cc00" y="9.6">500 N</text>
<text transform="translate(967.1 909.0) rotate(-56.5)" font-family="'Liberation Sans','DejaVu Sans',sans-serif" font-style="italic" font-size="27" text-anchor="middle" fill="#66cc00" y="9.6">250 N</text>
<text transform="translate(975.0 998.9) rotate(-48.0)" font-family="'Liberation Sans','DejaVu Sans',sans-serif" font-style="italic" font-size="27" text-anchor="middle" fill="#66cc00" y="9.6">0 N</text>
<text transform="translate(577.1 914.5) rotate(-37.0)" font-family="'Liberation Sans','DejaVu Sans',sans-serif" fill="#66cc00"><tspan font-size="42">a</tspan><tspan font-size="33" dx="8">max</tspan></text>
</g>
<g id="chart-right">
<path d="M1627.67 598.95V1286.80M1771.63 598.95V1286.80M1915.60 598.95V1286.80M2059.57 598.95V1286.80M2203.53 598.95V1286.80" fill="none" stroke="#8c8c8c" stroke-width="1.4" stroke-dasharray="13.075 7.372"/>
<path d="M1483.70 770.91H2347.50M1483.70 942.88H2347.50M1483.70 1114.84H2347.50" fill="none" stroke="#8c8c8c" stroke-width="1.4" stroke-dasharray="13.265 7.48"/>
<rect transform="translate(1780.9 1129.9) rotate(-66.0)" x="-44.5" y="-19" width="89.0" height="36.8" fill="#fff"/>
<rect transform="translate(1872.1 1066.7) rotate(-64.5)" x="-37.0" y="-19" width="74.0" height="36.8" fill="#fff"/>
<rect transform="translate(1953.7 1011.0) rotate(-72.0)" x="-37.0" y="-19" width="74.0" height="36.8" fill="#fff"/>
<rect transform="translate(2034.7 949.4) rotate(-73.0)" x="-37.0" y="-19" width="74.0" height="36.8" fill="#fff"/>
<rect transform="translate(2117.4 884.8) rotate(-72.5)" x="-37.0" y="-19" width="74.0" height="36.8" fill="#fff"/>
<rect transform="translate(2197.9 828.8) rotate(-70.0)" x="-29.5" y="-19" width="59.0" height="36.8" fill="#fff"/>
<rect transform="translate(2278.4 774.4) rotate(-71.0)" x="-22.0" y="-19" width="44.0" height="36.8" fill="#fff"/>
<rect transform="translate(1785.8 1025.5) rotate(-37.4)" x="-3.6" y="-45.5" width="97.2" height="57" fill="#fff"/>
<path d="M1512.49 598.95v13.2M1512.49 1286.80v-13.2M1541.29 598.95v13.2M1541.29 1286.80v-13.2M1570.08 598.95v13.2M1570.08 1286.80v-13.2M1598.87 598.95v13.2M1598.87 1286.80v-13.2M1656.46 598.95v13.2M1656.46 1286.80v-13.2M1685.25 598.95v13.2M1685.25 1286.80v-13.2M1714.05 598.95v13.2M1714.05 1286.80v-13.2M1742.84 598.95v13.2M1742.84 1286.80v-13.2M1800.43 598.95v13.2M1800.43 1286.80v-13.2M1829.22 598.95v13.2M1829.22 1286.80v-13.2M1858.01 598.95v13.2M1858.01 1286.80v-13.2M1886.81 598.95v13.2M1886.81 1286.80v-13.2M1944.39 598.95v13.2M1944.39 1286.80v-13.2M1973.19 598.95v13.2M1973.19 1286.80v-13.2M2001.98 598.95v13.2M2001.98 1286.80v-13.2M2030.77 598.95v13.2M2030.77 1286.80v-13.2M2088.36 598.95v13.2M2088.36 1286.80v-13.2M2117.15 598.95v13.2M2117.15 1286.80v-13.2M2145.95 598.95v13.2M2145.95 1286.80v-13.2M2174.74 598.95v13.2M2174.74 1286.80v-13.2M2232.33 598.95v13.2M2232.33 1286.80v-13.2M2261.12 598.95v13.2M2261.12 1286.80v-13.2M2289.91 598.95v13.2M2289.91 1286.80v-13.2M2318.71 598.95v13.2M2318.71 1286.80v-13.2M1483.70 633.34h13.2M2347.50 633.34h-13.2M1483.70 667.74h13.2M2347.50 667.74h-13.2M1483.70 702.13h13.2M2347.50 702.13h-13.2M1483.70 736.52h13.2M2347.50 736.52h-13.2M1483.70 805.31h13.2M2347.50 805.31h-13.2M1483.70 839.70h13.2M2347.50 839.70h-13.2M1483.70 874.09h13.2M2347.50 874.09h-13.2M1483.70 908.48h13.2M2347.50 908.48h-13.2M1483.70 977.27h13.2M2347.50 977.27h-13.2M1483.70 1011.66h13.2M2347.50 1011.66h-13.2M1483.70 1046.05h13.2M2347.50 1046.05h-13.2M1483.70 1080.45h13.2M2347.50 1080.45h-13.2M1483.70 1149.23h13.2M2347.50 1149.23h-13.2M1483.70 1183.62h13.2M2347.50 1183.62h-13.2M1483.70 1218.01h13.2M2347.50 1218.01h-13.2M1483.70 1252.41h13.2M2347.50 1252.41h-13.2" fill="none" stroke="#555" stroke-width="1"/>
<path d="M1483.10 598.95H2348.00M1483.10 1286.80H2348.00" fill="none" stroke="#999" stroke-width="1.7"/>
<path d="M1483.70 598.95V1286.80" fill="none" stroke="#858585" stroke-width="1.3"/>
<path d="M2347.50 598.95V1286.80" fill="none" stroke="#707070" stroke-width="1.1"/>
<text x="1411.30" y="610.35" font-family="'Liberation Sans','DejaVu Sans',sans-serif" font-size="32" text-anchor="start" fill="#1c1c1c" >1,0</text>
<text x="1411.30" y="782.31" font-family="'Liberation Sans','DejaVu Sans',sans-serif" font-size="32" text-anchor="start" fill="#1c1c1c" >0,75</text>
<text x="1411.30" y="954.27" font-family="'Liberation Sans','DejaVu Sans',sans-serif" font-size="32" text-anchor="start" fill="#1c1c1c" >0,5</text>
<text x="1411.30" y="1126.24" font-family="'Liberation Sans','DejaVu Sans',sans-serif" font-size="32" text-anchor="start" fill="#1c1c1c" >0,25</text>
<text x="1454.90" y="1336.40" font-family="'Liberation Sans','DejaVu Sans',sans-serif" font-size="32" text-anchor="middle" fill="#1c1c1c" >0</text>
<text x="1627.67" y="1336.40" font-family="'Liberation Sans','DejaVu Sans',sans-serif" font-size="32" text-anchor="middle" fill="#1c1c1c" >300</text>
<text x="1771.63" y="1336.40" font-family="'Liberation Sans','DejaVu Sans',sans-serif" font-size="32" text-anchor="middle" fill="#1c1c1c" >600</text>
<text x="1915.60" y="1336.40" font-family="'Liberation Sans','DejaVu Sans',sans-serif" font-size="32" text-anchor="middle" fill="#1c1c1c" >900</text>
<text x="2059.57" y="1336.40" font-family="'Liberation Sans','DejaVu Sans',sans-serif" font-size="32" text-anchor="middle" fill="#1c1c1c" >1200</text>
<text x="2203.53" y="1336.40" font-family="'Liberation Sans','DejaVu Sans',sans-serif" font-size="32" text-anchor="middle" fill="#1c1c1c" >1500</text>
<text x="2347.50" y="1336.40" font-family="'Liberation Sans','DejaVu Sans',sans-serif" font-size="32" text-anchor="middle" fill="#1c1c1c" >1800</text>
<text x="1915.60" y="1396.90" font-family="'Liberation Sans','DejaVu Sans',sans-serif" font-size="31.5" text-anchor="middle" fill="#1c1c1c" textLength="446" lengthAdjust="spacingAndGlyphs">Длина рабочего хода Lp, мм</text>
<text transform="translate(1380.10 986.3) rotate(-90)" font-family="'Liberation Sans','DejaVu Sans',sans-serif" font-size="46" fill="#1c1c1c" textLength="22.3" lengthAdjust="spacingAndGlyphs">a</text>
<text transform="translate(1379.90 963.2) rotate(-90)" font-family="'Liberation Sans','DejaVu Sans',sans-serif" font-size="32" fill="#1c1c1c">,</text>
<text transform="translate(1379.80 944.6) rotate(-90)" font-family="'Liberation Sans','DejaVu Sans',sans-serif" font-size="32" fill="#1c1c1c" textLength="44" lengthAdjust="spacingAndGlyphs">мм</text>
<path d="M1484.5 1287.0C1486.6 1287.0 1492.8 1287.2 1496.9 1287.2C1501.1 1287.2 1505.3 1287.2 1509.5 1287.1C1513.7 1287.1 1518.0 1286.9 1522.2 1286.8C1526.5 1286.6 1530.8 1286.4 1535.1 1286.1C1539.4 1285.8 1543.7 1285.5 1548.0 1285.1C1552.4 1284.7 1556.7 1284.3 1561.0 1283.8C1565.4 1283.3 1569.7 1282.8 1574.0 1282.2C1578.4 1281.6 1582.7 1280.9 1587.0 1280.2C1591.4 1279.5 1595.7 1278.7 1600.0 1277.8C1604.3 1277.0 1608.6 1276.1 1612.9 1275.1C1617.2 1274.2 1621.5 1273.1 1625.7 1272.0C1630.0 1270.9 1634.2 1269.8 1638.4 1268.6C1642.6 1267.3 1646.8 1266.1 1650.9 1264.7C1655.1 1263.3 1659.2 1261.9 1663.3 1260.4C1667.4 1258.9 1671.4 1257.4 1675.4 1255.7C1679.4 1254.1 1683.4 1252.4 1687.3 1250.6C1691.3 1248.8 1695.1 1246.9 1699.0 1245.0C1702.8 1243.1 1706.6 1241.1 1710.3 1239.0C1714.0 1236.9 1717.7 1234.8 1721.3 1232.5C1724.9 1230.3 1728.4 1228.0 1731.9 1225.6C1735.4 1223.2 1738.8 1220.7 1742.1 1218.1C1745.5 1215.6 1748.8 1212.9 1752.0 1210.2C1755.2 1207.5 1758.3 1204.7 1761.3 1201.8C1764.4 1198.9 1767.3 1195.9 1770.2 1192.8C1773.1 1189.7 1775.9 1186.6 1778.6 1183.3C1781.3 1180.1 1783.9 1176.8 1786.5 1173.4C1789.0 1170.0 1791.5 1166.5 1793.8 1163.0C1796.2 1159.4 1798.4 1155.8 1800.6 1152.2C1802.8 1148.5 1804.9 1144.7 1806.9 1140.9C1808.9 1137.2 1810.8 1133.3 1812.6 1129.4C1814.5 1125.5 1816.2 1121.6 1817.8 1117.6C1819.5 1113.6 1821.0 1109.5 1822.5 1105.5C1823.9 1101.4 1825.3 1097.3 1826.6 1093.1C1827.9 1089.0 1829.1 1084.8 1830.2 1080.6C1831.3 1076.4 1832.3 1072.2 1833.2 1068.0C1834.2 1063.7 1835.0 1059.4 1835.8 1055.2C1836.6 1050.9 1837.3 1046.6 1837.9 1042.3C1838.5 1038.0 1839.0 1033.7 1839.5 1029.4C1839.9 1025.1 1840.4 1018.7 1840.6 1016.6" fill="none" stroke="#66cc00" stroke-width="3.3"/>
<path d="M1484.5 1287.0C1487.1 1287.0 1494.8 1287.0 1499.9 1286.9C1505.1 1286.9 1510.3 1286.8 1515.5 1286.6C1520.8 1286.4 1526.0 1286.2 1531.3 1285.9C1536.5 1285.7 1541.8 1285.4 1547.1 1285.0C1552.4 1284.6 1557.7 1284.2 1563.0 1283.7C1568.3 1283.2 1573.6 1282.6 1578.9 1282.0C1584.2 1281.4 1589.6 1280.7 1594.9 1280.0C1600.2 1279.2 1605.5 1278.4 1610.8 1277.5C1616.1 1276.7 1621.4 1275.7 1626.7 1274.7C1632.0 1273.7 1637.2 1272.6 1642.5 1271.4C1647.7 1270.3 1652.9 1269.0 1658.1 1267.7C1663.3 1266.4 1668.5 1265.0 1673.7 1263.6C1678.8 1262.1 1683.9 1260.6 1689.0 1258.9C1694.1 1257.3 1699.2 1255.6 1704.2 1253.8C1709.2 1252.0 1714.1 1250.1 1719.1 1248.1C1724.0 1246.2 1728.9 1244.1 1733.7 1242.0C1738.5 1239.8 1743.3 1237.6 1748.0 1235.3C1752.7 1232.9 1757.4 1230.5 1762.0 1228.0C1766.6 1225.4 1771.1 1222.8 1775.5 1220.1C1780.0 1217.4 1784.4 1214.6 1788.7 1211.6C1793.0 1208.7 1797.2 1205.7 1801.3 1202.6C1805.5 1199.4 1809.6 1196.2 1813.5 1192.9C1817.5 1189.5 1821.4 1186.1 1825.1 1182.5C1828.9 1178.9 1832.6 1175.3 1836.2 1171.5C1839.8 1167.7 1843.2 1163.8 1846.6 1159.8C1850.0 1155.8 1853.2 1151.6 1856.4 1147.4C1859.5 1143.2 1862.6 1138.8 1865.5 1134.4C1868.5 1130.0 1871.3 1125.5 1874.0 1120.9C1876.7 1116.3 1879.4 1111.7 1881.9 1106.9C1884.4 1102.2 1886.8 1097.4 1889.0 1092.5C1891.3 1087.7 1893.5 1082.7 1895.6 1077.8C1897.6 1072.8 1899.6 1067.8 1901.4 1062.7C1903.2 1057.7 1905.0 1052.5 1906.6 1047.4C1908.2 1042.3 1909.7 1037.1 1911.1 1031.9C1912.5 1026.8 1913.8 1021.6 1914.9 1016.4C1916.1 1011.2 1917.1 1005.9 1918.0 1000.7C1919.0 995.5 1919.8 990.3 1920.5 985.1C1921.2 979.9 1921.8 974.7 1922.2 969.5C1922.7 964.4 1923.1 956.7 1923.3 954.1" fill="none" stroke="#66cc00" stroke-width="3.3"/>
<path d="M1484.5 1287.0C1487.5 1286.9 1496.6 1286.8 1502.7 1286.7C1508.9 1286.5 1515.0 1286.4 1521.2 1286.1C1527.4 1285.9 1533.7 1285.6 1539.9 1285.3C1546.2 1285.0 1552.4 1284.6 1558.7 1284.2C1565.0 1283.8 1571.4 1283.3 1577.7 1282.8C1584.0 1282.3 1590.4 1281.7 1596.7 1281.0C1603.0 1280.3 1609.4 1279.6 1615.7 1278.8C1622.1 1278.0 1628.4 1277.1 1634.8 1276.2C1641.1 1275.2 1647.4 1274.2 1653.7 1273.1C1660.0 1271.9 1666.3 1270.7 1672.6 1269.4C1678.9 1268.1 1685.1 1266.8 1691.3 1265.3C1697.6 1263.8 1703.7 1262.2 1709.9 1260.6C1716.0 1258.9 1722.1 1257.1 1728.2 1255.2C1734.3 1253.3 1740.3 1251.3 1746.3 1249.2C1752.2 1247.1 1758.1 1244.9 1764.0 1242.5C1769.9 1240.2 1775.7 1237.7 1781.4 1235.2C1787.1 1232.6 1792.8 1229.9 1798.4 1227.0C1804.0 1224.2 1809.5 1221.2 1814.9 1218.1C1820.4 1215.0 1825.7 1211.8 1831.0 1208.4C1836.3 1205.0 1841.5 1201.5 1846.6 1197.9C1851.7 1194.3 1856.7 1190.5 1861.6 1186.7C1866.5 1182.8 1871.3 1178.8 1875.9 1174.7C1880.6 1170.6 1885.2 1166.4 1889.7 1162.0C1894.1 1157.7 1898.5 1153.2 1902.7 1148.7C1907.0 1144.1 1911.1 1139.4 1915.0 1134.6C1919.0 1129.8 1922.9 1124.9 1926.6 1119.9C1930.3 1114.8 1933.9 1109.7 1937.3 1104.5C1940.8 1099.3 1944.1 1094.0 1947.2 1088.6C1950.4 1083.2 1953.4 1077.7 1956.3 1072.1C1959.2 1066.6 1962.0 1060.9 1964.6 1055.2C1967.2 1049.5 1969.6 1043.7 1971.9 1037.9C1974.2 1032.1 1976.4 1026.2 1978.4 1020.2C1980.4 1014.3 1982.3 1008.3 1984.1 1002.3C1985.8 996.2 1987.5 990.1 1989.0 984.0C1990.6 977.9 1992.0 971.8 1993.3 965.6C1994.7 959.4 1996.0 953.2 1997.2 947.0C1998.4 940.8 1999.6 934.6 2000.7 928.4C2001.8 922.1 2002.8 915.9 2003.9 909.7C2004.9 903.4 2006.4 894.1 2006.9 891.0" fill="none" stroke="#66cc00" stroke-width="3.3"/>
<path d="M1484.5 1287.0C1488.1 1286.9 1498.7 1286.4 1505.9 1286.1C1513.0 1285.8 1520.2 1285.5 1527.4 1285.1C1534.7 1284.8 1541.9 1284.4 1549.2 1284.0C1556.5 1283.6 1563.8 1283.2 1571.1 1282.7C1578.4 1282.2 1585.8 1281.7 1593.1 1281.1C1600.4 1280.6 1607.8 1279.9 1615.1 1279.2C1622.5 1278.5 1629.8 1277.8 1637.2 1277.0C1644.5 1276.1 1651.9 1275.2 1659.2 1274.2C1666.5 1273.2 1673.8 1272.2 1681.1 1271.0C1688.4 1269.8 1695.7 1268.6 1702.9 1267.2C1710.1 1265.8 1717.4 1264.4 1724.5 1262.8C1731.7 1261.2 1738.8 1259.5 1745.9 1257.7C1753.0 1255.8 1760.0 1253.9 1767.0 1251.8C1774.0 1249.7 1781.0 1247.5 1787.8 1245.1C1794.7 1242.8 1801.5 1240.2 1808.3 1237.6C1815.0 1234.9 1821.7 1232.1 1828.3 1229.1C1835.0 1226.1 1841.5 1223.0 1847.9 1219.7C1854.4 1216.5 1860.8 1213.0 1867.1 1209.4C1873.3 1205.9 1879.5 1202.1 1885.6 1198.2C1891.7 1194.3 1897.7 1190.3 1903.6 1186.1C1909.5 1181.9 1915.3 1177.5 1921.0 1173.0C1926.6 1168.5 1932.2 1163.9 1937.6 1159.1C1943.1 1154.2 1948.4 1149.3 1953.6 1144.2C1958.8 1139.0 1963.9 1133.8 1968.8 1128.4C1973.7 1123.0 1978.4 1117.5 1983.0 1111.8C1987.6 1106.2 1992.1 1100.4 1996.4 1094.5C2000.6 1088.6 2004.7 1082.6 2008.6 1076.4C2012.6 1070.3 2016.3 1064.1 2019.9 1057.8C2023.5 1051.5 2027.0 1045.1 2030.3 1038.6C2033.5 1032.1 2036.7 1025.5 2039.6 1018.9C2042.6 1012.2 2045.4 1005.5 2048.1 998.7C2050.7 991.9 2053.3 985.0 2055.6 978.1C2058.0 971.2 2060.3 964.3 2062.4 957.3C2064.5 950.3 2066.5 943.2 2068.4 936.1C2070.3 929.0 2072.0 921.9 2073.7 914.8C2075.4 907.6 2076.9 900.5 2078.4 893.3C2079.8 886.1 2081.2 878.9 2082.5 871.8C2083.8 864.6 2085.0 857.4 2086.2 850.2C2087.3 843.0 2088.9 832.3 2089.4 828.7" fill="none" stroke="#66cc00" stroke-width="3.3"/>
<path d="M1484.5 1287.0C1488.5 1286.9 1500.6 1286.6 1508.7 1286.4C1516.8 1286.2 1524.9 1285.9 1533.1 1285.6C1541.3 1285.3 1549.6 1285.0 1557.8 1284.6C1566.1 1284.2 1574.4 1283.7 1582.7 1283.2C1591.0 1282.7 1599.3 1282.1 1607.7 1281.5C1616.0 1280.8 1624.4 1280.1 1632.7 1279.3C1641.1 1278.5 1649.4 1277.7 1657.8 1276.7C1666.1 1275.7 1674.5 1274.7 1682.8 1273.5C1691.1 1272.4 1699.4 1271.1 1707.7 1269.7C1716.0 1268.4 1724.3 1266.9 1732.5 1265.3C1740.7 1263.7 1749.0 1261.9 1757.1 1260.1C1765.3 1258.2 1773.4 1256.2 1781.4 1254.1C1789.5 1252.0 1797.5 1249.7 1805.5 1247.3C1813.4 1244.9 1821.3 1242.3 1829.1 1239.6C1837.0 1236.8 1844.7 1233.9 1852.4 1230.9C1860.1 1227.8 1867.7 1224.5 1875.2 1221.1C1882.7 1217.7 1890.1 1214.1 1897.4 1210.4C1904.8 1206.6 1912.0 1202.6 1919.1 1198.5C1926.3 1194.4 1933.3 1190.1 1940.2 1185.7C1947.1 1181.2 1953.9 1176.6 1960.6 1171.8C1967.3 1167.0 1973.8 1162.0 1980.3 1156.9C1986.7 1151.7 1993.0 1146.4 1999.1 1141.0C2005.3 1135.5 2011.3 1129.9 2017.2 1124.1C2023.0 1118.3 2028.7 1112.3 2034.3 1106.2C2039.9 1100.1 2045.3 1093.8 2050.5 1087.4C2055.7 1081.0 2060.8 1074.4 2065.7 1067.7C2070.6 1061.1 2075.3 1054.2 2079.8 1047.3C2084.3 1040.4 2088.7 1033.3 2092.8 1026.2C2097.0 1019.0 2101.0 1011.7 2104.8 1004.4C2108.6 997.0 2112.2 989.5 2115.6 982.0C2119.1 974.4 2122.3 966.8 2125.4 959.1C2128.5 951.4 2131.4 943.6 2134.2 935.8C2137.0 927.9 2139.6 920.0 2142.0 912.1C2144.5 904.1 2146.8 896.1 2149.0 888.1C2151.2 880.0 2153.2 871.9 2155.1 863.8C2157.0 855.7 2158.8 847.6 2160.4 839.4C2162.1 831.3 2163.6 823.1 2165.1 814.9C2166.5 806.8 2167.8 798.6 2169.1 790.4C2170.3 782.2 2171.9 770.0 2172.5 765.9" fill="none" stroke="#66cc00" stroke-width="3.3"/>
<path d="M1484.5 1287.0C1489.0 1286.9 1502.5 1286.6 1511.6 1286.4C1520.7 1286.1 1529.8 1285.8 1539.0 1285.5C1548.2 1285.1 1557.4 1284.8 1566.7 1284.3C1575.9 1283.8 1585.2 1283.3 1594.5 1282.7C1603.8 1282.1 1613.1 1281.5 1622.5 1280.7C1631.8 1280.0 1641.1 1279.2 1650.5 1278.2C1659.8 1277.3 1669.2 1276.3 1678.5 1275.2C1687.9 1274.0 1697.2 1272.8 1706.5 1271.5C1715.8 1270.1 1725.1 1268.7 1734.4 1267.1C1743.7 1265.5 1752.9 1263.8 1762.1 1262.0C1771.3 1260.1 1780.5 1258.2 1789.6 1256.1C1798.7 1253.9 1807.8 1251.7 1816.8 1249.2C1825.8 1246.8 1834.8 1244.2 1843.7 1241.5C1852.6 1238.7 1861.4 1235.8 1870.2 1232.7C1878.9 1229.7 1887.6 1226.4 1896.2 1222.9C1904.8 1219.5 1913.3 1215.8 1921.7 1212.0C1930.1 1208.2 1938.5 1204.2 1946.7 1200.0C1954.9 1195.8 1963.0 1191.4 1971.0 1186.8C1979.0 1182.2 1986.9 1177.4 1994.7 1172.5C2002.4 1167.5 2010.1 1162.4 2017.6 1157.0C2025.1 1151.7 2032.5 1146.2 2039.7 1140.5C2046.9 1134.7 2054.0 1128.8 2060.9 1122.7C2067.9 1116.6 2074.7 1110.3 2081.3 1103.8C2087.9 1097.4 2094.3 1090.7 2100.6 1083.9C2106.9 1077.1 2113.0 1070.1 2118.8 1062.9C2124.7 1055.8 2130.4 1048.5 2135.9 1041.0C2141.4 1033.6 2146.6 1026.0 2151.7 1018.3C2156.8 1010.5 2161.6 1002.7 2166.3 994.7C2170.9 986.7 2175.4 978.6 2179.6 970.4C2183.8 962.2 2187.9 953.9 2191.7 945.5C2195.5 937.0 2199.1 928.5 2202.6 919.9C2206.0 911.3 2209.3 902.6 2212.3 893.9C2215.4 885.1 2218.3 876.3 2221.0 867.4C2223.8 858.5 2226.3 849.5 2228.8 840.5C2231.2 831.5 2233.4 822.5 2235.6 813.4C2237.7 804.3 2239.7 795.1 2241.6 786.0C2243.5 776.8 2245.2 767.6 2246.9 758.4C2248.5 749.2 2250.1 740.0 2251.5 730.8C2253.0 721.6 2254.9 707.8 2255.6 703.2" fill="none" stroke="#66cc00" stroke-width="3.3"/>
<path d="M1484.5 1287.0C1489.7 1286.9 1505.4 1286.6 1515.8 1286.4C1526.2 1286.2 1536.6 1285.9 1547.0 1285.6C1557.4 1285.2 1567.7 1284.8 1578.1 1284.4C1588.4 1283.9 1598.8 1283.4 1609.1 1282.8C1619.4 1282.1 1629.7 1281.4 1640.0 1280.6C1650.3 1279.8 1660.6 1279.0 1670.8 1278.0C1681.1 1276.9 1691.3 1275.8 1701.5 1274.6C1711.8 1273.4 1722.0 1272.0 1732.1 1270.5C1742.3 1269.0 1752.5 1267.4 1762.7 1265.6C1772.8 1263.8 1783.0 1261.9 1793.1 1259.8C1803.2 1257.7 1813.3 1255.5 1823.4 1253.0C1833.5 1250.6 1843.6 1248.0 1853.7 1245.2C1863.7 1242.4 1873.8 1239.4 1883.7 1236.3C1893.7 1233.1 1903.6 1229.8 1913.5 1226.2C1923.3 1222.7 1933.1 1219.0 1942.8 1215.1C1952.5 1211.1 1962.2 1207.0 1971.7 1202.7C1981.2 1198.4 1990.6 1193.9 1999.9 1189.1C2009.2 1184.4 2018.3 1179.5 2027.4 1174.4C2036.4 1169.2 2045.3 1163.9 2054.0 1158.3C2062.8 1152.7 2071.3 1147.0 2079.7 1141.0C2088.1 1135.0 2096.4 1128.8 2104.4 1122.3C2112.4 1115.9 2120.3 1109.2 2127.9 1102.3C2135.5 1095.5 2143.0 1088.3 2150.2 1081.0C2157.4 1073.7 2164.4 1066.2 2171.2 1058.5C2178.0 1050.8 2184.7 1042.9 2191.0 1034.9C2197.4 1026.8 2203.6 1018.6 2209.6 1010.2C2215.5 1001.8 2221.3 993.3 2226.8 984.6C2232.3 975.9 2237.7 967.0 2242.8 958.0C2247.8 949.1 2252.7 940.0 2257.4 930.7C2262.0 921.5 2266.4 912.2 2270.6 902.7C2274.8 893.3 2278.8 883.8 2282.6 874.1C2286.4 864.5 2290.0 854.8 2293.4 845.0C2296.8 835.2 2300.1 825.4 2303.2 815.4C2306.3 805.5 2309.2 795.5 2312.1 785.5C2314.9 775.5 2317.7 765.4 2320.3 755.3C2322.9 745.3 2325.4 735.1 2327.9 725.0C2330.3 714.9 2332.6 704.7 2334.9 694.5C2337.2 684.4 2339.3 674.2 2341.4 664.1C2343.5 654.0 2346.5 638.8 2347.5 633.7" fill="none" stroke="#66cc00" stroke-width="3.3"/>
<path d="M1484.5 1287.0C1486.3 1287.0 1491.5 1287.2 1495.0 1287.2C1498.6 1287.2 1502.2 1287.1 1505.8 1287.1C1509.4 1287.0 1513.0 1286.9 1516.7 1286.7C1520.4 1286.5 1524.1 1286.3 1527.8 1286.0C1531.5 1285.7 1535.2 1285.4 1538.9 1285.0C1542.7 1284.6 1546.4 1284.2 1550.1 1283.7C1553.9 1283.2 1557.7 1282.7 1561.4 1282.1C1565.2 1281.5 1568.9 1280.9 1572.7 1280.2C1576.4 1279.4 1580.1 1278.7 1583.9 1277.9C1587.6 1277.0 1591.3 1276.1 1595.0 1275.2C1598.7 1274.2 1602.4 1273.2 1606.0 1272.2C1609.7 1271.1 1613.3 1269.9 1616.9 1268.7C1620.5 1267.5 1624.0 1266.3 1627.5 1264.9C1631.1 1263.6 1634.6 1262.2 1638.0 1260.7C1641.4 1259.2 1644.8 1257.7 1648.2 1256.1C1651.5 1254.5 1654.8 1252.8 1658.1 1251.0C1661.3 1249.3 1664.5 1247.4 1667.7 1245.5C1670.8 1243.6 1673.8 1241.6 1676.8 1239.6C1679.8 1237.5 1682.8 1235.4 1685.6 1233.2C1688.5 1231.0 1691.3 1228.7 1694.0 1226.3C1696.7 1223.9 1699.3 1221.5 1701.9 1218.9C1704.4 1216.4 1706.8 1213.8 1709.2 1211.1C1711.6 1208.4 1713.8 1205.6 1716.0 1202.7C1718.2 1199.8 1720.3 1196.9 1722.2 1193.8C1724.2 1190.8 1726.1 1187.7 1727.9 1184.5C1729.7 1181.3 1731.4 1178.0 1733.1 1174.7C1734.7 1171.4 1736.2 1168.1 1737.7 1164.6C1739.2 1161.2 1740.5 1157.8 1741.8 1154.3C1743.2 1150.8 1744.4 1147.2 1745.5 1143.6C1746.7 1140.0 1747.8 1136.4 1748.8 1132.8C1749.8 1129.2 1750.8 1125.5 1751.6 1121.8C1752.5 1118.2 1753.4 1114.5 1754.1 1110.8C1754.9 1107.1 1755.6 1103.4 1756.2 1099.8C1756.9 1096.1 1757.5 1092.4 1758.0 1088.7C1758.6 1085.1 1759.3 1079.6 1759.5 1077.8L2347.5 633.8" fill="none" stroke="#66cc00" stroke-width="10" stroke-linecap="round" stroke-linejoin="round"/>
<text transform="translate(1780.9 1129.9) rotate(-66.0)" font-family="'Liberation Sans','DejaVu Sans',sans-serif" font-style="italic" font-size="27" text-anchor="middle" fill="#66cc00" y="9.6">1500 N</text>
<text transform="translate(1872.1 1066.7) rotate(-64.5)" font-family="'Liberation Sans','DejaVu Sans',sans-serif" font-style="italic" font-size="27" text-anchor="middle" fill="#66cc00" y="9.6">750 N</text>
<text transform="translate(1953.7 1011.0) rotate(-72.0)" font-family="'Liberation Sans','DejaVu Sans',sans-serif" font-style="italic" font-size="27" text-anchor="middle" fill="#66cc00" y="9.6">400 N</text>
<text transform="translate(2034.7 949.4) rotate(-73.0)" font-family="'Liberation Sans','DejaVu Sans',sans-serif" font-style="italic" font-size="27" text-anchor="middle" fill="#66cc00" y="9.6">200 N</text>
<text transform="translate(2117.4 884.8) rotate(-72.5)" font-family="'Liberation Sans','DejaVu Sans',sans-serif" font-style="italic" font-size="27" text-anchor="middle" fill="#66cc00" y="9.6">100 N</text>
<text transform="translate(2197.9 828.8) rotate(-70.0)" font-family="'Liberation Sans','DejaVu Sans',sans-serif" font-style="italic" font-size="27" text-anchor="middle" fill="#66cc00" y="9.6">50 N</text>
<text transform="translate(2278.4 774.4) rotate(-71.0)" font-family="'Liberation Sans','DejaVu Sans',sans-serif" font-style="italic" font-size="27" text-anchor="middle" fill="#66cc00" y="9.6">0 N</text>
<text transform="translate(1785.8 1025.5) rotate(-37.4)" font-family="'Liberation Sans','DejaVu Sans',sans-serif" fill="#66cc00"><tspan font-size="42">a</tspan><tspan font-size="33" dx="8">max</tspan></text>
</g>
</svg></body></html>
